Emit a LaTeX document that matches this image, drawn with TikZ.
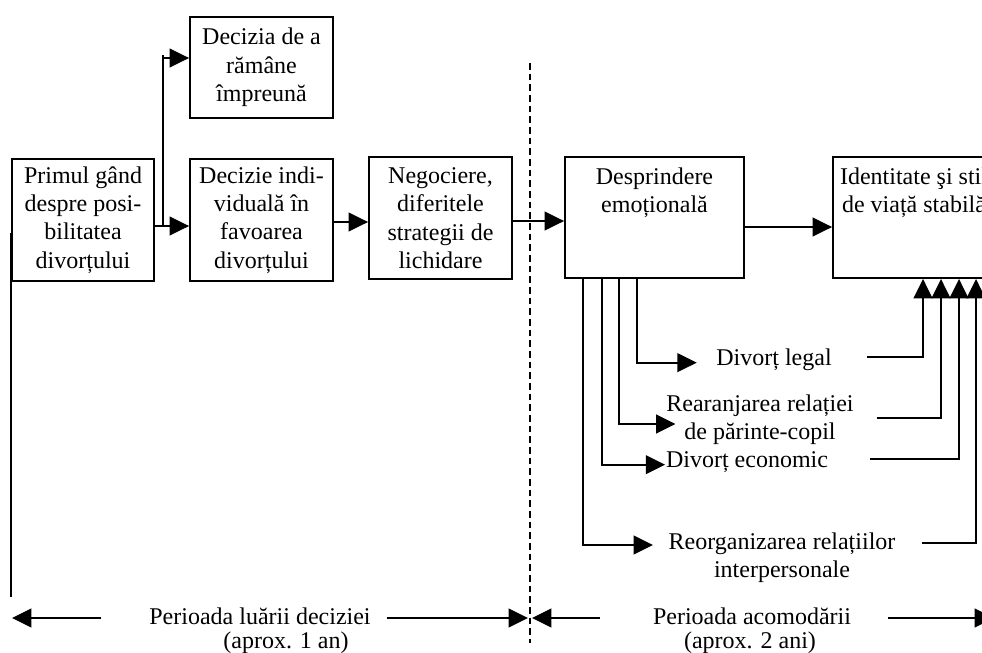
\documentclass[tikz,border=0pt]{standalone}
\usepackage{fontspec}
\setmainfont{Liberation Serif}
\usepackage{tikz}
\usetikzlibrary{positioning, arrows.meta}

\begin{document}
\begin{tikzpicture}[x=0.75pt, y=-0.75pt, line width=1.4pt,
    every node/.style={font=\fontsize{18}{21.3}\selectfont},
    stage/.style={draw, align=center, inner sep=2pt},
    lbl/.style={align=center, inner sep=0pt},
    arr/.style={-{Triangle[length=14.5pt, width=14pt]}}]
    \useasboundingbox (0,0) rectangle (982,653);
    \clip (0,0) rectangle (982,653);

    % Stages of the decision
    \node[stage, minimum width=106.5pt, minimum height=91.5pt] (primul) at (83,220) {Primul gând\\despre posi-\\bilitatea\\divorțului};
    \node[stage, minimum width=107.25pt, minimum height=75.75pt] (ramane) at (261.5,67.5) {Decizia de a\\rămâne\\împreună};
    \node[stage, minimum width=107.25pt, minimum height=91.5pt] (indiv) at (261.5,220) {Decizie indi-\\viduală în\\favoarea\\divorțului};
    \node[stage, minimum width=107.25pt, minimum height=91.5pt] (negoc) at (440.5,218) {Negociere,\\diferitele\\strategii de\\lichidare};

    % Stages of the adjustment
    \node[stage, minimum width=134.25pt, minimum height=90.75pt] (desp) at (654.5,217.5) {};
    \node[lbl, below=8pt of desp.north] (desptxt) {Desprindere\\emoțională};
    \node[stage, minimum width=121.5pt, minimum height=90.75pt] (ident) at (914,217.5) {};
    \node[lbl, below=8pt of ident.north] (identtxt) {Identitate şi stil\\de viață stabilă};

    % Main flow
    \coordinate (fork) at (163,226);
    \coordinate (forktop) at (163,55);
    \draw[arr] (primul.east |- fork) -- (indiv.west |- fork);
    \draw (fork) -- (forktop);
    \draw[arr] (forktop |- 0,58) -- (ramane.west |- 0,58);
    \draw[arr] (indiv.east |- 0,222) -- (negoc.west |- 0,222);
    \draw[arr] (negoc.east |- 0,221) -- (desp.west |- 0,221);
    \draw[arr] (desp.east |- 0,227) -- (ident.west |- 0,227);
    \draw (primul.west |- 0,233) -- (primul.west |- 0,597);

    % Border between the two periods
    \coordinate (dtop) at (530,63);
    \coordinate (dbot) at (530,643);
    \draw[line width=1pt, dash pattern=on 5pt off 3pt] (dtop) -- (dbot);

    % Parallel processes
    \node[lbl] (legal) at (774,360) {Divorț legal};
    \node[lbl] (rear) at (760,420) {Rearanjarea relației\\de părinte-copil};
    \node[lbl] (econ) at (747,462) {Divorț economic};
    \node[lbl] (reorg) at (782,558) {Reorganizarea relațiilor\\interpersonale};

    \draw[arr] (desp.south -| 637,0) |- ([xshift=-14pt, yshift=-2pt]legal.west);
    \draw[arr] (desp.south -| 619,0) |- ([xshift=7.5pt, yshift=-3pt]rear.west);
    \draw[arr] (desp.south -| 602,0) |- ([yshift=-2pt]econ.west);
    \draw[arr] (desp.south -| 583,0) |- ([xshift=-11pt, yshift=9.75pt]reorg.west);

    \draw[arr] ([xshift=25.5pt, yshift=2pt]legal.east) -| (ident.south -| 923,0);
    \draw[arr] ([xshift=16.5pt, yshift=1.5pt]rear.east) -| (ident.south -| 941,0);
    \draw[arr] ([xshift=31pt, yshift=2pt]econ.east) -| (ident.south -| 959,0);
    \draw[arr] ([xshift=19.5pt, yshift=11pt]reorg.east) -| (ident.south -| 976,0);

    % Periods
    \node[lbl] (per1) at (260,616) {Perioada luării deciziei};
    \node[lbl] (per1b) at (286,643) {(aprox. 1 an)};
    \node[lbl] (per2) at (752,616) {Perioada acomodării};
    \node[lbl] (per2b) at (750,643) {(aprox. 2 ani)};
    \coordinate (p1l) at (12,618);
    \coordinate (p1r) at (528,618);
    \coordinate (p2l) at (532,618);
    \coordinate (p2r) at (994,618);
    \draw[arr] ([xshift=-35.5pt, yshift=-1.5pt]per1.west) -- (p1l);
    \draw[arr] ([xshift=11.5pt, yshift=-1.5pt]per1.east) -- (p1r);
    \draw[arr] ([xshift=-39pt, yshift=-1.5pt]per2.west) -- (p2l);
    \draw[arr] ([xshift=27pt, yshift=-1.5pt]per2.east) -- (p2r);
\end{tikzpicture}
\end{document}
